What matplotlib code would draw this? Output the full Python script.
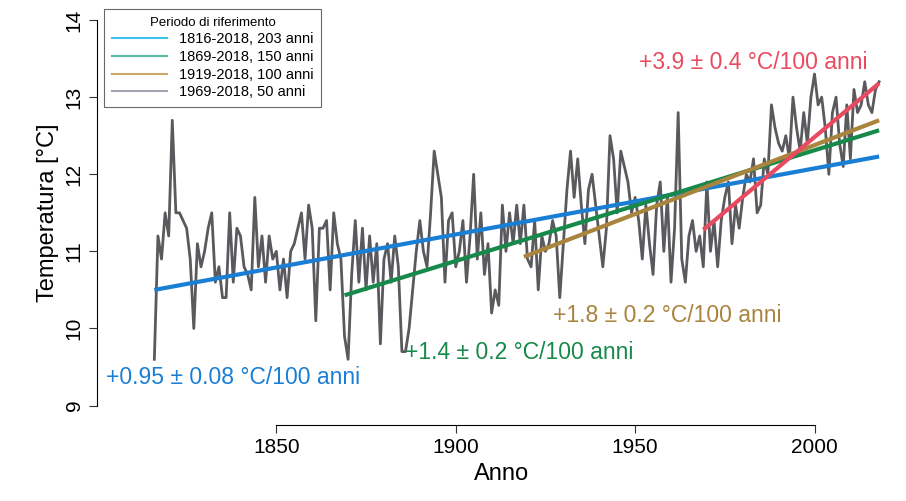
import numpy as np
import matplotlib.pyplot as plt

plt.rcParams['font.family'] = ['Liberation Sans', 'DejaVu Sans']

years = np.arange(1816, 2019)
temps = [
    9.6, 11.2, 10.9, 11.5, 11.2, 12.7, 11.5, 11.5, 11.4, 11.3,
    10.9, 10.0, 11.1, 10.8, 11.0, 11.3, 11.5, 10.6, 10.8, 10.4,
    10.4, 11.5, 10.6, 11.3, 11.2, 10.8, 10.7, 10.5, 11.7, 10.8,
    11.2, 10.6, 11.2, 10.9, 11.0, 10.5, 10.9, 10.4, 11.0, 11.1,
    11.3, 11.5, 10.9, 11.6, 11.3, 10.1, 11.3, 11.3, 11.4, 10.5,
    11.5, 11.1, 10.9, 9.9, 9.6, 10.7, 11.4, 10.6, 11.3, 10.5,
    11.2, 10.6, 11.1, 9.8, 10.9, 11.1, 10.6, 11.2, 10.8, 9.7,
    9.7, 10.0, 10.5, 11.0, 11.4, 11.0, 10.8, 11.5, 12.3, 12.0,
    11.7, 10.6, 11.4, 11.5, 10.8, 11.0, 11.4, 10.6, 11.2, 12.0,
    10.9, 11.5, 10.7, 11.1, 10.2, 10.5, 10.3, 11.6, 11.0, 11.5,
    11.1, 11.6, 11.1, 11.6, 10.9, 10.8, 11.4, 10.5, 11.2, 11.0,
    11.1, 11.4, 11.2, 10.4, 11.1, 11.8, 12.3, 11.7, 12.2, 11.6,
    11.1, 11.8, 12.0, 11.6, 11.2, 10.8, 11.3, 12.5, 12.2, 11.5,
    12.3, 12.1, 11.9, 11.5, 11.7, 11.4, 10.9, 11.6, 11.1, 10.7,
    11.6, 11.9, 11.0, 11.7, 10.6, 11.3, 12.8, 10.9, 10.6, 11.2,
    11.4, 11.0, 11.2, 10.8, 11.9, 11.0, 11.4, 10.8, 11.4, 11.7,
    11.9, 11.1, 11.6, 11.3, 11.7, 12.0, 11.9, 12.2, 11.5, 11.6,
    12.2, 12.0, 12.9, 12.6, 12.4, 12.3, 12.5, 12.2, 13.0, 12.6,
    12.3, 12.8, 12.4, 13.0, 13.3, 12.9, 13.0, 12.6, 12.0, 12.8,
    13.0, 12.4, 12.1, 12.9, 12.2, 13.1, 12.8, 12.9, 13.2, 12.9,
    12.8, 13.1, 13.2,
]

# trend lines: start year, end year, value at start, value at end
trend_start = [1816, 1869, 1919, 1969]
trend_end = [2018, 2018, 2018, 2018]
trend_v0 = [10.50, 10.43, 10.93, 11.28]
trend_v1 = [12.23, 12.57, 12.70, 13.18]
trend_colors = ["#1a7fd4", "#17894a", "#a8843c", "#e84a5f"]
legend_colors = ["#3cc4ea", "#58b8a4", "#c8a66c", "#a4a4b4"]
legend_labels = ["1816-2018, 203 anni", "1869-2018, 150 anni",
                 "1919-2018, 100 anni", "1969-2018, 50 anni"]
trend_texts = ["+0.95 ± 0.08 °C/100 anni", "+1.4 ± 0.2 °C/100 anni",
               "+1.8 ± 0.2 °C/100 anni", "+3.9 ± 0.4 °C/100 anni"]
text_pos = [(1802.4, 9.36), (1886, 9.69), (1927, 10.17), (1951, 13.45)]

fig = plt.figure(figsize=(9.06, 5.01), dpi=100)
ax = fig.add_axes([0.107, 0.152, 0.893, 0.848])

ax.plot(years, temps, color="#5a5a5e", lw=2.0, zorder=2)
for s, e, v0, v1, c in zip(trend_start, trend_end, trend_v0, trend_v1, trend_colors):
    ax.plot([s, e], [v0, v1], color=c, lw=3, zorder=3, solid_capstyle="butt")
for (tx, ty), t, c in zip(text_pos, trend_texts, trend_colors):
    ax.text(tx, ty, t, color=c, fontsize=16.5, va="center", ha="left")

handles = [plt.Line2D([], [], color=c, lw=1.5) for c in legend_colors]
leg = ax.legend(handles, legend_labels, title="Periodo di riferimento",
                loc="upper left", bbox_to_anchor=(0.0, 0.995), fontsize=10.5,
                title_fontsize=9.5, frameon=True, fancybox=False,
                edgecolor="#444444", handlelength=3.8, borderpad=0.5,
                labelspacing=0.25)
leg.get_frame().set_linewidth(0.8)

ax.set_xlim(1800, 2025.5)
ax.set_ylim(8.75, 14.26)
ax.set_xticks([1850, 1900, 1950, 2000])
ax.set_yticks([9, 10, 11, 12, 13, 14])
ax.spines["top"].set_visible(False)
ax.spines["right"].set_visible(False)
ax.spines["left"].set_bounds(9, 14)
ax.spines["bottom"].set_bounds(1850, 2000)
ax.tick_params(labelsize=15, length=6, color="#333333")
for lab in ax.get_yticklabels():
    lab.set_rotation(90)
    lab.set_va("center")
ax.set_xlabel("Anno", fontsize=17)
ax.set_ylabel("Temperatura [°C]", fontsize=17)

fig.savefig("out.png", dpi=100)
